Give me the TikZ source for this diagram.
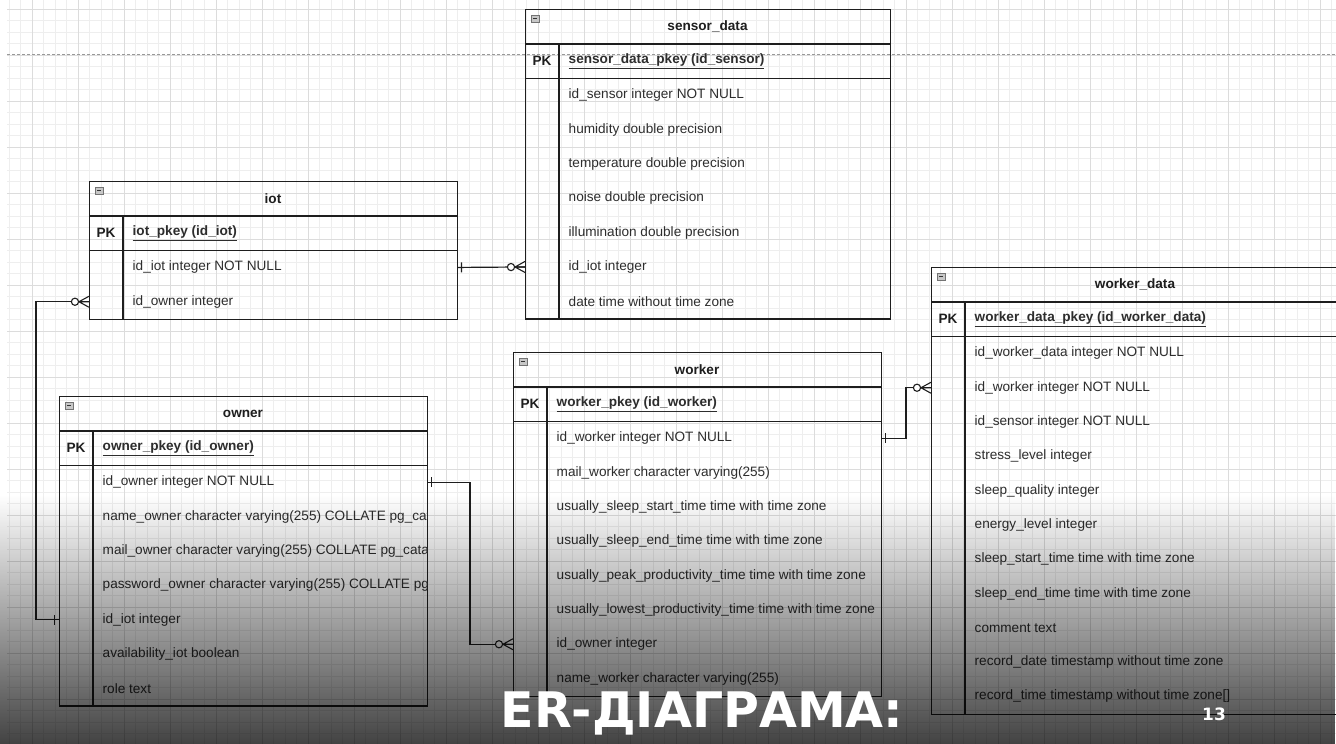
\documentclass[tikz,border=0pt]{standalone}
\usepackage{fontspec}
\setmainfont{Liberation Sans}
\newfontfamily\titlefont{DejaVu Sans}
\usetikzlibrary{decorations.markings,fadings}

\definecolor{gridminor}{RGB}{238,238,238}
\definecolor{gridmajor}{RGB}{220,220,220}
\definecolor{edge}{RGB}{30,30,30}
\definecolor{ink}{RGB}{45,45,45}

\tikzfading[name=darkdown, top color=transparent!100, bottom color=transparent!26]

\tikzset{
  minorgrid/.style={draw=gridminor, line width=0.6},
  majorgrid/.style={draw=gridmajor, line width=0.8},
  pageline/.style={draw=black!40, line width=0.9, dash pattern=on 3pt off 2pt},
  tablebox/.style={draw=edge, line width=1.2, inner sep=0, rectangle},
  tableline/.style={draw=edge, line width=1.2},
  headtext/.style={font=\fontsize{13.6}{16}\selectfont\bfseries, text=edge, inner sep=0},
  keytext/.style={font=\fontsize{13.6}{16}\selectfont\bfseries, text=ink, inner sep=0, anchor=west},
  rowtext/.style={font=\fontsize{13.6}{16}\selectfont, text=ink, inner sep=0, anchor=west},
  rel/.style={draw=edge, line width=1.2},
  one start/.style={postaction={decorate, decoration={markings,
      mark=at position 0.0001 with {\draw[edge, line width=1.2] (4.5,-5) -- (4.5,5);}}}},
  many end/.style={postaction={decorate, decoration={markings,
      mark=at position 0.9999 with {
        \draw[edge, line width=1.1] (-10,0) -- (0,5.5) (-10,0) -- (0,-5.5) (-10,0) -- (0,0);
        \draw[edge, line width=1.1, fill=white] (-14,0) circle (3.6);}}}},
  titletext/.style={font=\titlefont\bfseries\fontsize{49}{52}\selectfont, text=white, inner sep=0},
  pagenum/.style={font=\titlefont\bfseries\fontsize{17}{18}\selectfont, text=white, inner sep=0},
}

% \ertable{name}{left}{top}{width}{title}{primary key}{columns}{number of columns}
\newcommand{\ertable}[8]{%
  \pgfmathsetmacro{\tabh}{35+34.3*(#8+1)}%
  \pgfmathsetmacro{\tabb}{#3+\tabh}%
  \node[tablebox, minimum width=#4, minimum height=\tabh, anchor=north west] (#1) at (#2,#3) {};
  \draw[tableline] (#2,{#3+35}) -- ++(#4,0);
  \draw[tableline] (#2,{#3+69.3}) -- ++(#4,0);
  \draw[tableline] ({#2+34},{#3+35}) -- ({#2+34},\tabb);
  \draw[draw=black!55, fill=black!22, line width=0.6] ({#2+6.5},{#3+6}) rectangle ++(7.5,7.5);
  \draw[draw=black!80, line width=1] ({#2+8.3},{#3+9.75}) -- ++(3.9,0);
  \node[headtext] (#1-title) at ({#2+#4/2},{#3+17.5}) {#5};
  \node[headtext] (#1-pk) at ({#2+17},{#3+52.15}) {PK};
  \begin{scope}
    \clip (#2,#3) rectangle ++(#4,\tabh);
    \node[keytext] (#1-key) at ({#2+43.5},{#3+52.15}) {\underline{#6}};
    \foreach \r [count=\i] in {#7} {
      \node[rowtext] (#1-\i) at ({#2+43.5},{#3+35+34.3*(\i+0.5)}) {\r};
      \coordinate (#1-\i-w) at (#2,{#3+35+34.3*(\i+0.5)});
      \coordinate (#1-\i-e) at ({#2+#4},{#3+35+34.3*(\i+0.5)});
    }
  \end{scope}
}

\begin{document}
\begin{tikzpicture}[x=1pt, y=-1pt]
  \useasboundingbox (0,0) rectangle (1336,744);
  \fill[white] (0,0) rectangle (1336,744);

  % drawing grid
  \foreach \k in {0,...,115} \draw[minorgrid] ({9+11.5*\k},0) -- ({9+11.5*\k},744);
  \foreach \k in {0,...,64} \draw[minorgrid] (7,{9+11.5*\k}) -- (1336,{9+11.5*\k});
  \foreach \k in {0,...,28} \draw[majorgrid] ({32+46*\k},0) -- ({32+46*\k},744);
  \foreach \k in {0,...,16} \draw[majorgrid] (7,{9+46*\k}) -- (1336,{9+46*\k});
  \draw[pageline] (7,54.5) -- (1336,54.5);

  % tables
  \ertable{sensordata}{525}{9}{365}{sensor\_data}{sensor\_data\_pkey (id\_sensor)}{
    id\_sensor integer NOT NULL,
    humidity double precision,
    temperature double precision,
    noise double precision,
    illumination double precision,
    id\_iot integer,
    date time without time zone}{7}

  \ertable{iot}{89}{181}{368}{iot}{iot\_pkey (id\_iot)}{
    id\_iot integer NOT NULL,
    id\_owner integer}{2}

  \ertable{owner}{59}{396}{368}{owner}{owner\_pkey (id\_owner)}{
    id\_owner integer NOT NULL,
    name\_owner character varying(255) COLLATE pg\_catalog,
    mail\_owner character varying(255) COLLATE pg\_catalog,
    password\_owner character varying(255) COLLATE pg\_catalog,
    id\_iot integer,
    availability\_iot boolean,
    role text}{7}

  \ertable{worker}{513}{352}{368}{worker}{worker\_pkey (id\_worker)}{
    id\_worker integer NOT NULL,
    mail\_worker character varying(255),
    usually\_sleep\_start\_time time with time zone,
    usually\_sleep\_end\_time time with time zone,
    usually\_peak\_productivity\_time time with time zone,
    usually\_lowest\_productivity\_time time with time zone,
    id\_owner integer,
    name\_worker character varying(255)}{8}

  \ertable{workerdata}{931}{267}{408}{worker\_data}{worker\_data\_pkey (id\_worker\_data)}{
    id\_worker\_data integer NOT NULL,
    id\_worker integer NOT NULL,
    id\_sensor integer NOT NULL,
    stress\_level integer,
    sleep\_quality integer,
    energy\_level integer,
    sleep\_start\_time time with time zone,
    sleep\_end\_time time with time zone,
    comment text,
    record\_date timestamp without time zone,
    {record\_time timestamp without time zone[]}}{11}

  % relationships
  \draw[rel, one start, many end] (iot-1-e) -- (sensordata-6-w);
  \draw[rel, one start, many end] (owner-5-w) -- ++(-23,0) |- (iot-2-w);
  \draw[rel, one start, many end] (owner-1-e) -- ++(43,0) |- (worker-7-w);
  \draw[rel, one start, many end] (worker-1-e) -- ++(25,0) |- (workerdata-2-w);

  % darkening band and slide caption
  \fill[black, path fading=darkdown] (0,495) rectangle (1336,744);
  \node[titletext, anchor=base] (title) at (702,727) {ER-ДІАГРАМА:};
  \node[pagenum, anchor=base] (page) at (1214,720) {13};
\end{tikzpicture}
\end{document}
